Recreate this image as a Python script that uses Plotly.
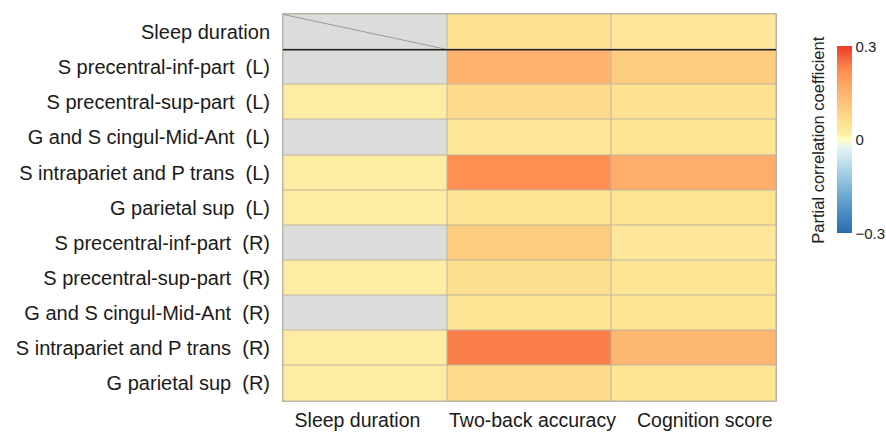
import numpy as np
import plotly.graph_objects as go

row_labels = [
    "Sleep duration",
    "S precentral-inf-part\u00a0 (L)",
    "S precentral-sup-part\u00a0 (L)",
    "G and S cingul-Mid-Ant\u00a0 (L)",
    "S intrapariet and P trans\u00a0 (L)",
    "G parietal sup\u00a0 (L)",
    "S precentral-inf-part\u00a0 (R)",
    "S precentral-sup-part\u00a0 (R)",
    "G and S cingul-Mid-Ant\u00a0 (R)",
    "S intrapariet and P trans\u00a0 (R)",
    "G parietal sup\u00a0 (R)",
]
col_labels = ["Sleep duration", "Two-back accuracy", "Cognition score"]
# tick texts padded with non-breaking spaces to mimic the reference's label placement
col_ticktext = ["Sleep duration\u00a0\u00a0\u00a0",
                "\u00a0Two-back accuracy",
                "\u00a0\u00a0\u00a0\u00a0Cognition score"]

nan = np.nan
sleep_duration = [nan, nan, 0.02, nan, 0.02, 0.02, nan, 0.02, nan, 0.02, 0.02]
two_back_accuracy = [0.055, 0.15, 0.07, 0.04, 0.22, 0.045, 0.10, 0.06, 0.045, 0.235, 0.07]
cognition_score = [0.035, 0.10, 0.055, 0.045, 0.16, 0.05, 0.035, 0.045, 0.045, 0.14, 0.045]

colorbar_ticks = [-0.3, 0, 0.3]
colorbar_ticktext = ["\u22120.3", "0", "0.3"]

z = np.array([sleep_duration, two_back_accuracy, cognition_score], dtype=float).T
nan_mask = np.where(np.isnan(z), 1.0, np.nan)

line_color = "#bdb4a3"
font_family = "Liberation Sans, Arial, sans-serif"

colorscale = [
    [0.0, "#2a6cb0"],
    [0.17, "#5fa0cc"],
    [0.33, "#a7d3e6"],
    [0.45, "#e3f3f5"],
    [0.5, "#fffdc4"],
    [0.533, "#feeca2"],
    [0.583, "#fee393"],
    [0.667, "#fecc7e"],
    [0.75, "#feb26e"],
    [0.867, "#ff8f52"],
    [1.0, "#ec3b2b"],
]

fig = go.Figure()
fig.add_trace(go.Heatmap(
    z=nan_mask, x=col_labels, y=row_labels,
    colorscale=[[0, "#dcdcdc"], [1, "#dcdcdc"]],
    showscale=False, xgap=1, ygap=1, hoverinfo="skip",
))
fig.add_trace(go.Heatmap(
    z=z, x=col_labels, y=row_labels,
    colorscale=colorscale, zmin=-0.3, zmax=0.3,
    xgap=1, ygap=1,
    colorbar=dict(
        x=1.124, xanchor="left", thickness=15,
        len=0.484, lenmode="fraction", y=0.675, yanchor="middle",
        outlinewidth=0, xpad=0, ypad=0,
        tickvals=colorbar_ticks, ticktext=colorbar_ticktext,
        ticks="", ticklabelposition="outside",
        tickfont=dict(size=15, color="#222222", family=font_family),
    ),
))

# decorations: diagonal in the empty self-pair cell and separator line
ci = col_labels.index("Sleep duration")
ri = row_labels.index("Sleep duration")
fig.add_shape(type="line", xref="x", yref="y",
              x0=ci - 0.5, y0=ri - 0.5, x1=ci + 0.5, y1=ri + 0.5,
              line=dict(color="#9a9a9a", width=1))
fig.add_shape(type="line", xref="paper", yref="y",
              x0=0, x1=1, y0=ri + 0.5, y1=ri + 0.5,
              line=dict(color="#222222", width=1.5))

fig.add_annotation(
    text="Partial correlation coefficient", textangle=-90,
    xref="paper", yref="paper", x=1.085, y=0.675,
    xanchor="center", yanchor="middle",
    showarrow=False, font=dict(size=16.5, color="#222222", family=font_family),
)

fig.update_layout(
    width=886, height=433,
    margin=dict(l=283, r=110, t=14, b=32, autoexpand=False),
    paper_bgcolor="white",
    plot_bgcolor=line_color,
    font=dict(family=font_family, size=20, color="#1a1a1a"),
)
fig.update_xaxes(
    showgrid=False, zeroline=False, ticks="", automargin=False,
    showline=True, mirror=True, linecolor=line_color, linewidth=1,
    tickvals=col_labels, ticktext=col_ticktext, tickangle=0,
    tickfont=dict(size=19.5), ticklabelstandoff=2,
)
fig.update_yaxes(
    autorange="reversed", showgrid=False, zeroline=False, ticks="", automargin=False,
    showline=True, mirror=True, linecolor=line_color, linewidth=1,
    tickfont=dict(size=20), ticklabelstandoff=8,
)

fig.write_html(
    "out.html",
    config={"displayModeBar": False},
    post_script="document.body.style.margin='0';document.body.style.padding='0';"
                "document.documentElement.style.margin='0';document.body.style.overflow='hidden';",
)
